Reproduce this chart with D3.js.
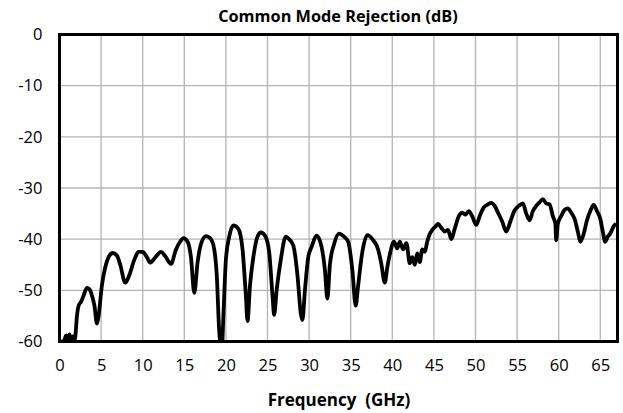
<!DOCTYPE html>
<html><head><meta charset="utf-8">
<script src="https://cdn.jsdelivr.net/npm/d3@7"></script>
<style>body{margin:0;background:#fff}svg{display:block}text{font-family:"Open Sans","Liberation Sans",sans-serif;fill:#000}</style>
</head><body><svg id="c" width="623" height="413"></svg>
<script>
const title = "Common Mode Rejection (dB)";
const xLabel = "Frequency  (GHz)";
const xTicks = [0,5,10,15,20,25,30,35,40,45,50,55,60,65];
const yTicks = [0,-10,-20,-30,-40,-50,-60];
const freq = [0.2,0.5,0.8,1.0,1.2,1.4,1.6,1.8,1.9,2.1,2.3,2.6,2.9,3.3,3.6,3.9,4.2,4.5,4.7,5.1,5.5,5.9,6.4,6.9,7.3,7.9,8.4,9.0,9.5,10.0,10.5,10.9,11.3,11.8,12.2,12.7,13.4,14.0,14.5,14.9,15.4,15.8,16.2,16.6,17.0,17.6,18.2,18.6,18.9,19.2,19.3,19.5,19.7,20.0,20.4,20.9,21.5,22.0,22.4,22.6,22.9,23.3,23.8,24.2,24.7,25.2,25.6,25.8,26.1,26.6,27.2,27.6,28.1,28.6,29.0,29.2,29.5,29.9,30.3,30.9,31.5,31.9,32.2,32.5,33.0,33.6,34.2,34.7,35.2,35.6,35.9,36.4,37.0,37.7,38.3,38.7,39.1,39.4,39.7,40.2,40.6,40.9,41.3,41.7,42.1,42.4,42.7,43.0,43.3,43.6,43.9,44.2,44.5,44.8,45.2,45.5,45.9,46.3,46.7,47.1,47.5,48.0,48.4,48.8,49.2,49.6,50.1,50.5,51.0,51.5,51.9,52.3,52.7,53.2,53.7,54.2,54.7,55.2,55.7,56.1,56.5,56.9,57.3,57.7,58.1,58.5,58.9,59.3,59.6,59.7,59.9,60.3,60.7,61.1,61.5,61.9,62.3,62.6,63.0,63.4,63.8,64.2,64.6,65.0,65.3,65.6,65.9,66.2,66.6,66.9];
const cmr = [-60,-60,-58.8,-59.5,-58.6,-59.8,-59,-60,-59,-55,-53,-52.2,-51,-49.5,-49.8,-51,-53,-56.5,-55,-49,-45.5,-43.5,-42.7,-43.2,-45,-48.5,-47,-44,-42.5,-42.5,-43.5,-44.6,-44,-43,-42.5,-43.3,-44.8,-42,-40.5,-39.8,-40.5,-43.5,-50.5,-44.5,-41,-39.4,-40,-42,-47,-58,-60,-62,-55,-44,-39.5,-37.3,-38,-42,-51,-56,-49,-43.5,-39.5,-38.7,-39.3,-42.5,-51,-54.8,-50,-44,-39.5,-40,-41.2,-47,-54.5,-55.8,-50,-43.5,-41.5,-39.3,-41.5,-46,-51.6,-45,-41,-38.9,-39.5,-40.5,-46,-53,-49,-42.5,-39.2,-40.2,-42,-45,-48.5,-45.5,-43,-40.5,-41.8,-40.5,-42,-40.8,-44.7,-43.5,-45,-42.8,-44.5,-42,-42.5,-40.5,-39,-38.2,-37.5,-37,-37.8,-38.5,-38.2,-40,-38,-35.5,-34.8,-35.2,-34.5,-35.5,-37.2,-35.5,-33.8,-33.2,-32.9,-33.5,-34.8,-36.5,-38.5,-36.5,-34.4,-33.5,-33,-35,-36.3,-34.5,-33.5,-32.8,-32.2,-33,-33.2,-35.5,-37,-40.2,-37,-35.5,-34.3,-34,-34.8,-36,-38.5,-40.5,-39,-36.3,-34.5,-33.3,-34.5,-36,-38.5,-40.5,-39.5,-38.9,-37.5,-37];

const svg = d3.select("#c");
const L = 59.5, R = 617.5, T = 34.5, B = 341.5;
const x = d3.scaleLinear().domain([0, 67.07]).range([L, R]);
const y = d3.scaleLinear().domain([-60, 0]).range([B, T]);

svg.append("defs").append("clipPath").attr("id","pc").append("rect")
  .attr("x",L).attr("y",T).attr("width",R-L).attr("height",B-T);

// grid
svg.append("g").selectAll("line").data(xTicks.filter(d=>d>0)).join("line")
  .attr("x1",d=>x(d)).attr("x2",d=>x(d)).attr("y1",T).attr("y2",B)
  .attr("stroke","#b3b3b3").attr("stroke-width",1.3);
svg.append("g").selectAll("line").data(yTicks.filter(d=>d>-60&&d<0)).join("line")
  .attr("y1",d=>y(d)).attr("y2",d=>y(d)).attr("x1",L).attr("x2",R)
  .attr("stroke","#b3b3b3").attr("stroke-width",1.3);

const fmt = d => String(d);
const xa = svg.append("g").attr("transform",`translate(0,${B})`)
  .call(d3.axisBottom(x).tickValues(xTicks).tickFormat(fmt).tickSize(0).tickPadding(18));
xa.select(".domain").remove();
xa.selectAll("text").attr("font-size",16.5).attr("font-family","Open Sans");
const ya = svg.append("g").attr("transform",`translate(${L},0)`)
  .call(d3.axisLeft(y).tickValues(yTicks).tickFormat(fmt).tickSize(0).tickPadding(17));
ya.select(".domain").remove();
ya.selectAll("text").attr("font-size",16.5).attr("font-family","Open Sans");

const pts = freq.map((f,i)=>[f,cmr[i]]);
svg.append("path").datum(pts).attr("clip-path","url(#pc)")
  .attr("d", d3.line().x(d=>x(d[0])).y(d=>y(d[1])).curve(d3.curveMonotoneX))
  .attr("fill","none").attr("stroke","#000").attr("stroke-width",3.8)
  .attr("stroke-linejoin","round");

svg.append("rect").attr("x",L).attr("y",T).attr("width",R-L).attr("height",B-T)
  .attr("fill","none").attr("stroke","#000").attr("stroke-width",3);

svg.append("text").attr("x",338).attr("y",22).attr("text-anchor","middle")
  .attr("font-size",16.3).attr("font-weight","bold").text(title);
svg.append("text").attr("x",339).attr("y",406).attr("text-anchor","middle")
  .attr("font-size",17).attr("font-weight","bold").style("white-space","pre").text(xLabel);
</script></body></html>
